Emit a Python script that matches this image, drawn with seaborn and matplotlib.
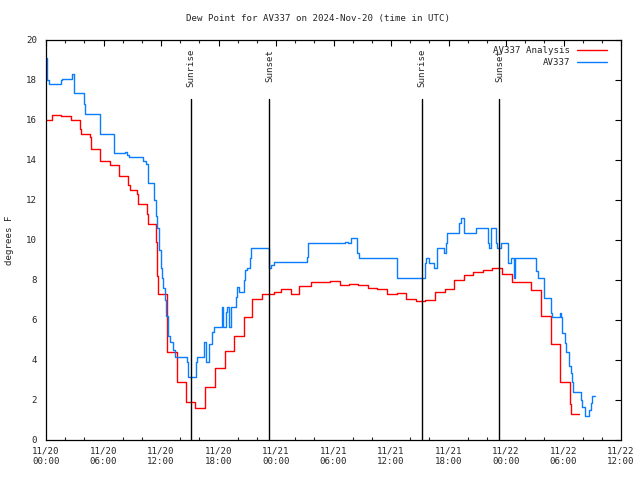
import matplotlib
matplotlib.use("Agg")
import matplotlib.pyplot as plt
import matplotlib.ticker as mticker
import seaborn as sns
import pandas as pd
from matplotlib.lines import Line2D

# ---- data (hours since 2024-11-20 00:00 UTC, dew point in F) ----
analysis_hours = [0.0, 0.59, 1.53, 2.58, 3.52, 3.68, 4.56, 4.66, 5.60, 5.67, 6.65, 7.62,
                  8.59, 8.73, 9.53, 9.63, 10.57, 10.67, 11.51, 11.61, 11.69, 12.60, 13.64,
                  14.58, 15.52, 16.59, 17.64, 18.68, 19.62, 20.66, 21.53, 22.57, 23.79,
                  24.49, 25.53, 26.40, 27.62, 29.60, 30.65, 31.62, 32.59, 33.60, 34.57,
                  35.62, 36.66, 37.60, 38.58, 39.55, 40.56, 41.60, 42.58, 43.62, 44.56,
                  45.60, 46.57, 47.55, 48.66, 50.58, 51.62, 52.67, 53.64, 54.65, 54.75, 55.62]
analysis_vals = [16.0, 16.25, 16.2, 15.97, 15.55, 15.3, 15.13, 14.55, 14.2, 13.95, 13.75, 13.2,
                 12.75, 12.5, 12.27, 11.8, 11.3, 10.8, 9.9, 8.2, 7.28, 4.38, 2.88,
                 1.88, 1.58, 2.63, 3.58, 4.42, 5.2, 6.13, 7.03, 7.28, 7.4,
                 7.53, 7.28, 7.7, 7.9, 7.95, 7.73, 7.78, 7.73, 7.58, 7.53,
                 7.28, 7.33, 7.05, 6.95, 7.0, 7.38, 7.53, 7.98, 8.22, 8.38,
                 8.48, 8.58, 8.3, 7.9, 7.5, 6.2, 4.78, 2.88, 1.8, 1.3, 1.3]

station_hours = [0.0, 0.08, 0.35, 1.53, 1.70, 2.75, 2.95, 3.97, 4.02, 5.60, 7.10, 8.24, 8.45,
                 8.66, 10.12, 10.47, 10.64, 11.27, 11.45, 11.61, 11.79, 11.97, 12.07, 12.24,
                 12.39, 12.49, 12.70, 12.76, 12.91, 13.28, 13.43, 14.74, 14.85, 15.62, 15.73,
                 16.52, 16.67, 17.01, 17.29, 17.53, 18.40, 18.50, 18.75, 18.92, 19.10, 19.27,
                 19.80, 19.96, 20.14, 20.66, 20.77, 21.01, 21.26, 21.36, 23.27, 23.48, 23.79,
                 27.20, 27.37, 31.20, 31.51, 31.80, 32.48, 32.66, 36.66, 39.55, 39.68, 39.97,
                 40.49, 40.83, 41.53, 41.71, 41.88, 43.10, 43.34, 43.62, 44.84, 46.15, 46.25,
                 46.40, 46.92, 47.09, 47.45, 48.24, 48.49, 48.84, 48.94, 51.16, 51.37, 51.97,
                 52.67, 52.83, 53.60, 53.77, 53.88, 54.13, 54.30, 54.58, 54.75, 54.92, 55.02,
                 55.80, 55.97, 56.21, 56.66, 56.84, 57.00, 57.25]
station_vals = [19.1, 18.0, 17.8, 18.0, 18.05, 18.3, 17.33, 16.8, 16.3, 15.3, 14.33, 14.4, 14.25,
                14.12, 13.92, 13.78, 12.83, 12.0, 11.17, 10.58, 9.5, 8.58, 8.08, 7.58,
                7.0, 6.17, 5.67, 5.17, 4.88, 4.5, 4.13, 3.88, 3.13, 3.88, 4.13,
                4.88, 3.88, 4.8, 5.38, 5.63, 6.63, 5.63, 6.38, 6.63, 5.63, 6.63,
                7.13, 7.63, 7.38, 8.0, 8.47, 8.58, 9.08, 9.6, 8.58, 8.75, 8.87,
                9.12, 9.83, 9.88, 9.83, 10.08, 9.33, 9.08, 8.08, 8.83, 9.08, 8.83,
                8.58, 9.58, 9.33, 9.83, 10.33, 10.83, 11.08, 10.33, 10.58, 9.83, 9.6,
                10.58, 9.83, 9.58, 9.83, 8.83, 9.08, 8.08, 9.08, 8.42, 8.08, 7.08,
                6.33, 6.13, 6.33, 6.13, 5.33, 4.83, 4.38, 3.67, 3.33, 2.88, 2.38,
                2.0, 1.63, 1.2, 1.5, 1.83, 2.2, 2.2]

sun_events = ["Sunrise", "Sunset", "Sunrise", "Sunset"]
sun_hours = [15.16, 23.31, 39.27, 47.31]

xtick_hours = [0, 6, 12, 18, 24, 30, 36, 42, 48, 54, 60]
xtick_labels = ["11/20\n00:00", "11/20\n06:00", "11/20\n12:00", "11/20\n18:00",
                "11/21\n00:00", "11/21\n06:00", "11/21\n12:00", "11/21\n18:00",
                "11/22\n00:00", "11/22\n06:00", "11/22\n12:00"]

RED = "#ff0000"
BLUE = "#0a7dff"
FS = 6.6

sns.set_style("white")
plt.rcParams["font.family"] = ["DejaVu Sans Mono"]

fig = plt.figure(figsize=(6.4, 4.8), dpi=100)
ax = fig.add_axes([46 / 640, 1 - 439.5 / 480, 575 / 640, 400 / 480])

df_a = pd.DataFrame({"hour": analysis_hours, "dewpoint": analysis_vals})
df_s = pd.DataFrame({"hour": station_hours, "dewpoint": station_vals})

sns.lineplot(data=df_a, x="hour", y="dewpoint", ax=ax, color=RED, lw=1.0,
             drawstyle="steps-post", estimator=None, sort=False)
sns.lineplot(data=df_s, x="hour", y="dewpoint", ax=ax, color=BLUE, lw=1.0,
             drawstyle="steps-post", estimator=None, sort=False)

for name, h in zip(sun_events, sun_hours):
    ax.plot([h, h], [0, 17.05], color="black", lw=1.0)
    ax.text(h, 19.55, name, rotation=90, ha="center", va="top", fontsize=FS)

ax.set_xlim(0, 60)
ax.set_ylim(0, 20)
ax.set_xticks(xtick_hours)
ax.set_xticklabels(xtick_labels)
ax.xaxis.set_minor_locator(mticker.MultipleLocator(2))
ax.set_yticks(range(0, 21, 2))
ax.set_xlabel("")
ax.set_ylabel("")

ax.tick_params(axis="both", which="major", direction="in", length=4.5, width=0.8,
               top=True, right=True, labelsize=FS, pad=5, color="black")
ax.tick_params(axis="x", which="minor", direction="in", length=2.2, width=0.8,
               top=True, bottom=True)
ax.tick_params(axis="y", pad=6.5)
for s in ax.spines.values():
    s.set_color("black")
    s.set_linewidth(0.9)

handles = [Line2D([], [], color=RED, lw=1.0), Line2D([], [], color=BLUE, lw=1.0)]
leg = ax.legend(handles, ["AV337 Analysis", "AV337"], loc="upper right",
                frameon=False, markerfirst=False, fontsize=FS, handlelength=3.3,
                handletextpad=0.75, labelspacing=0.35, borderaxespad=0.0,
                bbox_to_anchor=(1 - 10 / 575, 1 - 3 / 400))

fig.text(0.497, 1 - 19 / 480, "Dew Point for AV337 on 2024-Nov-20 (time in UTC)",
         ha="center", va="center", fontsize=FS)
fig.text(10 / 640, 0.5, "degrees F", rotation=90, ha="center", va="center", fontsize=FS)

fig.savefig("out.png", dpi=100)
